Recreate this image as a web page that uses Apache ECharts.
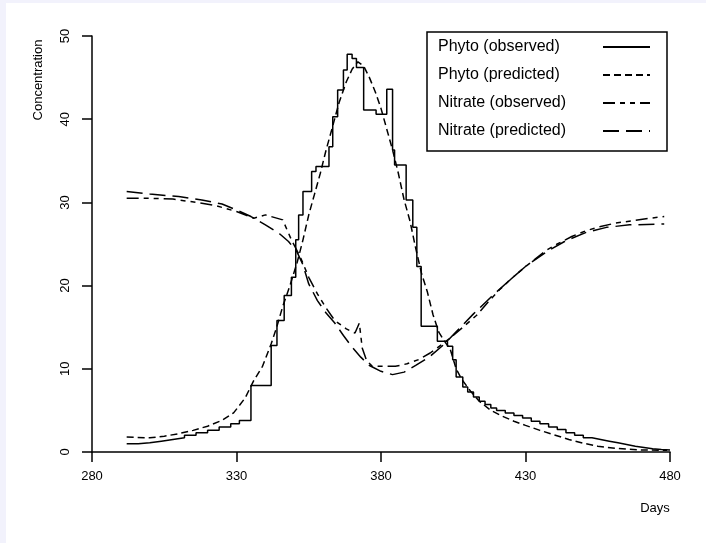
<!DOCTYPE html>
<html>
<head>
<meta charset="utf-8">
<script src="https://cdn.jsdelivr.net/npm/echarts@6/dist/echarts.min.js"></script>
<style>
  html, body { margin: 0; padding: 0; background: #fff; }
  #chart { width: 706px; height: 543px; }
</style>
</head>
<body>
<div id="chart"></div>
<script>
// x ticks (days) and y ticks (concentration)
const dayTicks = [280, 330, 380, 430, 480];
const concTicks = [0, 10, 20, 30, 40, 50];

const seriesNames = ['Phyto (observed)', 'Phyto (predicted)', 'Nitrate (observed)', 'Nitrate (predicted)'];

// observed phyto, stepwise [day, value]
const phytoObs = [
	[292, 1.0], [296, 1.1], [300, 1.3], [304, 1.5], [308, 1.7], [312, 2.0], [316, 2.3],
	[320, 2.6], [324, 3.0], [328, 3.4], [331, 3.8],
	[335, 8.0], [342, 12.8], [344, 15.8], [346.5, 18.8], [349, 21.0], [350.5, 25.5],
	[351.5, 28.5], [353, 31.3], [356, 33.7], [357.5, 34.3], [362, 36.7], [363.3, 40.3],
	[365, 43.5], [367, 45.9], [368.3, 47.8], [370, 47.3], [371.5, 46.2], [374, 41.1],
	[378.3, 40.6], [382, 43.6], [384, 36.3], [384.7, 34.5], [388.7, 30.3], [391, 27.0],
	[392.4, 22.3], [393.9, 15.1], [399.5, 13.3], [403, 12.7], [404.8, 11.1], [406, 9.0],
	[408.3, 7.8], [410, 7.2], [412, 6.6], [414, 6.1], [416, 5.7], [418, 5.3], [420, 5.0],
	[423, 4.7], [426, 4.4], [429, 4.1], [432, 3.7], [435, 3.4], [438, 3.0], [441, 2.7],
	[444, 2.3], [447, 2.0], [450, 1.7], [453, 1.5], [456, 1.3], [459, 1.1], [462, 0.9],
	[465, 0.7], [468, 0.55], [471, 0.4], [474, 0.3], [477, 0.25], [480, 0.2]
];

// predicted phyto [day, value]
const phytoPred = [
	[292, 1.8], [300, 1.7], [305, 1.9], [310, 2.2], [315, 2.6], [320, 3.1], [325, 3.8],
	[329, 4.7], [333, 6.5], [336, 8.6], [339, 10.3], [342, 13.0], [344, 15.1], [346, 17.5],
	[348.5, 20.0], [351, 22.8], [353, 25.5], [355, 28.5], [357, 31.0], [359, 33.5],
	[361, 36.3], [363, 38.8], [365.5, 42.0], [368, 44.5], [370, 46.0], [372, 46.9],
	[374, 46.4], [376, 45.0], [378, 43.3], [380, 41.3], [382, 38.8], [384, 36.3],
	[386, 33.5], [388, 30.3], [390, 27.8], [392, 24.5], [394, 21.5], [396, 19.3],
	[398, 16.5], [400, 14.4], [402, 13.3], [404, 12.3], [406, 10.0], [408, 8.7],
	[411, 7.3], [414, 6.1], [418, 5.0], [422, 4.3], [426, 3.7], [430, 3.2], [435, 2.6],
	[440, 2.05], [445, 1.5], [450, 1.05], [455, 0.7], [461, 0.45], [470, 0.25], [479, 0.2]
];

// observed nitrate [day, value]
const nitrateObs = [
	[292, 30.5], [300, 30.5], [308, 30.4], [316, 30.0], [323, 29.6], [330, 28.9],
	[336, 28.1], [340, 28.5], [346, 27.9], [349, 25.5], [352, 23.5], [355, 21.0],
	[358, 19.0], [361, 17.3], [364, 15.8], [368, 14.8], [371, 14.3], [372.5, 15.5],
	[373.5, 12.5], [375, 11.0], [377, 10.3], [385, 10.3], [389, 10.6], [393, 11.1],
	[397, 11.9], [401, 12.9], [405, 14.0], [409, 15.2], [413, 16.4], [417, 18.0],
	[421, 19.5], [425, 20.8], [429, 22.0], [433, 23.1], [437, 24.2], [441, 25.0],
	[446, 25.9], [451, 26.6], [456, 27.1], [461, 27.5], [467, 27.8], [473, 28.1], [478, 28.3]
];

// predicted nitrate [day, value]
const nitratePred = [
	[292, 31.3], [300, 31.0], [310, 30.7], [318, 30.3], [325, 29.8], [330, 29.1],
	[335, 28.3], [340, 27.3], [345, 26.2], [348, 25.3], [351, 24.0], [353, 22.5],
	[355, 20.2], [358, 18.2], [361, 16.7], [364, 15.5], [367, 14.0], [370, 12.6],
	[373, 11.4], [376, 10.4], [380, 9.7], [384, 9.3], [388, 9.6], [392, 10.4],
	[397, 11.5], [402, 13.0], [407, 14.8], [412, 16.6], [418, 18.6], [424, 20.5],
	[430, 22.3], [437, 24.0], [444, 25.4], [451, 26.4], [458, 27.0], [466, 27.3], [478, 27.4]
];

const dashTypes = ['solid', [7, 4], [12, 5, 5, 5, 5, 5], [16, 7]];
const seriesData = [phytoObs, phytoPred, nitrateObs, nitratePred];

const font = 'Liberation Sans, Arial, sans-serif';

const chart = echarts.init(document.getElementById('chart'), null, { renderer: 'canvas' });

const option = {
	backgroundColor: '#ffffff',
	animation: false,
	textStyle: { fontFamily: font, color: '#000' },
	grid: {
		left: 92,
		right: 36,
		top: 36,
		bottom: 91
	},
	legend: {
		orient: 'vertical',
		left: 427,
		top: 32,
		align: 'right',
		padding: [7, 16, 12, 11],
		itemGap: 12,
		itemWidth: 47,
		itemHeight: 14,
		borderColor: '#000',
		borderWidth: 1.5,
		borderRadius: 0,
		data: seriesNames,
		itemStyle: { opacity: 0 },
		formatter: function (name) {
			return '{t|' + name + '}';
		},
		textStyle: {
			fontFamily: font,
			fontSize: 16,
			color: '#000',
			rich: {
				t: { width: 160, align: 'left', fontFamily: font, fontSize: 16, color: '#000' }
			}
		}
	},
	xAxis: {
		type: 'value',
		min: dayTicks[0],
		max: dayTicks[dayTicks.length - 1],
		interval: 50,
		axisLine: { onZero: false, lineStyle: { color: '#000', width: 1.5 } },
		axisTick: { show: true, inside: false, length: 10, lineStyle: { color: '#000', width: 1.5 } },
		axisLabel: { color: '#000', fontSize: 13, margin: 18, fontFamily: font },
		splitLine: { show: false }
	},
	yAxis: {
		type: 'value',
		min: concTicks[0],
		max: concTicks[concTicks.length - 1],
		interval: 10,
		axisLine: { show: true, lineStyle: { color: '#000', width: 1.5 } },
		axisTick: { show: true, inside: false, length: 10, lineStyle: { color: '#000', width: 1.5 } },
		axisLabel: { color: '#000', fontSize: 13, margin: 20, rotate: 90, fontFamily: font },
		splitLine: { show: false }
	},
	graphic: [
		{ type: 'rect', shape: { x: 0, y: 0, width: 6, height: 543 }, style: { fill: '#f2f2fc' }, silent: true },
		{ type: 'rect', shape: { x: 0, y: 0, width: 706, height: 3 }, style: { fill: '#f2f2fc' }, silent: true },
		{
			type: 'text', x: 38, y: 80, rotation: Math.PI / 2,
			style: { text: 'Concentration', fill: '#000', font: '13px ' + font, textAlign: 'center', textVerticalAlign: 'middle' }
		},
		{
			type: 'text', x: 655, y: 508,
			style: { text: 'Days', fill: '#000', font: '13px ' + font, textAlign: 'center', textVerticalAlign: 'middle' }
		}
	],
	series: seriesNames.map((name, i) => ({
		name: name,
		type: 'line',
		data: seriesData[i],
		step: i === 0 ? 'end' : false,
		symbol: 'none',
		showSymbol: false,
		color: '#000',
		lineStyle: { color: '#000', width: 1.5, type: dashTypes[i] }
	}))
};

chart.setOption(option);
</script>
</body>
</html>
